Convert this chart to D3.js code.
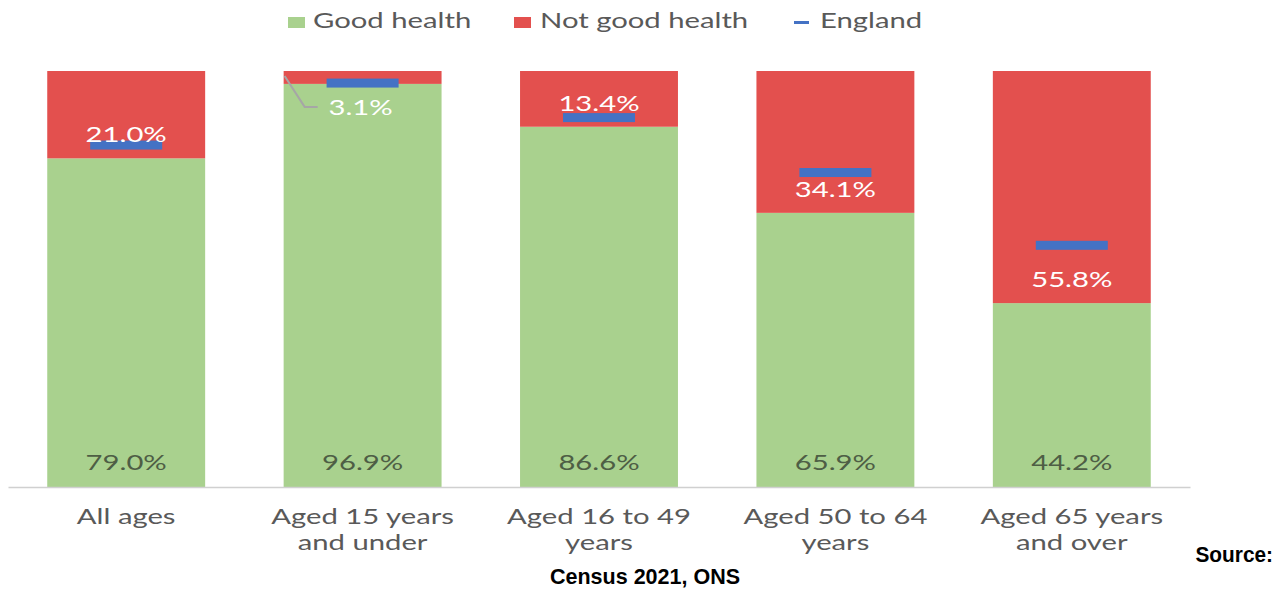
<!DOCTYPE html>
<html>
<head>
<meta charset="utf-8">
<script src="https://cdn.jsdelivr.net/npm/d3@7"></script>
<style>
  html, body { margin: 0; padding: 0; background: #fff; }
  svg { display: block; }
</style>
</head>
<body>
<svg id="chart" width="1281" height="589"></svg>
<script>
// Self-reported health by age group, Census 2021
const categories = [
  ["All ages"],
  ["Aged 15 years", "and under"],
  ["Aged 16 to 49", "years"],
  ["Aged 50 to 64", "years"],
  ["Aged 65 years", "and over"]
];
const goodHealth    = [79.0, 96.9, 86.6, 65.9, 44.2];
const notGoodHealth = [21.0, 3.1, 13.4, 34.1, 55.8];
// England comparator: share in good health
const england       = [82.2, 97.1, 88.8, 75.6, 58.1];
const legendLabels  = ["Good health", "Not good health", "England"];

const COLORS = { good: "#a9d18e", bad: "#e3504e", eng: "#4472c4" };
const FONT = "Lato, 'Open Sans', sans-serif";
const SX = 1.33; // horizontal stretch applied to chart text

const svg = d3.select("#chart");

const x = d3.scaleBand()
  .domain(d3.range(categories.length))
  .range([8, 1190])
  .paddingInner(0.332)
  .paddingOuter(0.166);

const y = d3.scaleLinear().domain([0, 100]).range([487, 71]);

const rows = categories.map((c, i) => ({
  i, label: c, good: goodHealth[i], bad: notGoodHealth[i], eng: england[i]
}));
const stack = d3.stack().keys(["good", "bad"])(rows);

function stretchedText(sel, tx, ty, txt, opts) {
  return sel.append("text")
    .attr("transform", `translate(${tx},${ty}) scale(${opts.sx || SX},1)`)
    .attr("text-anchor", opts.anchor || "middle")
    .attr("font-family", opts.family || FONT)
    .attr("font-size", opts.size || 22)
    .attr("font-weight", opts.weight || "normal")
    .attr("fill", opts.fill || "#595959")
    .text(txt);
}

// Bars
const gBars = svg.append("g");
stack.forEach(layer => {
  gBars.selectAll(null)
    .data(layer)
    .join("rect")
    .attr("x", d => x(d.data.i))
    .attr("width", x.bandwidth())
    .attr("y", d => y(d[1]))
    .attr("height", d => y(d[0]) - y(d[1]))
    .attr("fill", layer.key === "good" ? COLORS.good : COLORS.bad);
});

// Category axis line
const axis = d3.axisBottom(x).tickSize(0).tickFormat("");
const gAxis = svg.append("g").attr("transform", `translate(0,${y(0)})`).call(axis);
gAxis.select(".domain").attr("stroke", "#d0d0d0").attr("stroke-width", 1.6);

// England markers
svg.append("g").selectAll("rect")
  .data(rows)
  .join("rect")
  .attr("x", d => x(d.i) + x.bandwidth() / 2 - 36)
  .attr("width", 72)
  .attr("y", d => y(d.eng) - 4.5)
  .attr("height", 9)
  .attr("fill", COLORS.eng);

// Value labels
const gLab = svg.append("g");
rows.forEach(d => {
  const cx = x(d.i) + x.bandwidth() / 2;
  stretchedText(gLab, cx, y(0) - 17, d.good.toFixed(1) + "%", { fill: "#4e5e45" });
  if (d.bad < 5) {
    // small segment: label sits below the bar top with a leader line
    const ly = y(100 - d.bad) + 31;
    stretchedText(gLab, cx - 2, ly, d.bad.toFixed(1) + "%", { fill: "#ffffff" });
    gLab.append("polyline")
      .attr("points", [[x(d.i) + 1, y(100) + 5], [x(d.i) + 21, ly - 8], [x(d.i) + 34, ly - 8]].join(" "))
      .attr("fill", "none").attr("stroke", "#a6a6a6").attr("stroke-width", 2);
  } else {
    stretchedText(gLab, cx, y(d.good) - 16, d.bad.toFixed(1) + "%", { fill: "#ffffff" });
  }
});

// Category labels
const gCat = svg.append("g");
rows.forEach(d => {
  const cx = x(d.i) + x.bandwidth() / 2;
  d.label.forEach((line, k) => stretchedText(gCat, cx, 524 + k * 26, line, {}));
});

// Legend
const gLeg = svg.append("g");
const legX = [288, 514, 794];
const legTxt = [313, 540, 820];
gLeg.append("rect").attr("x", legX[0]).attr("y", 17).attr("width", 17).attr("height", 11).attr("fill", COLORS.good);
gLeg.append("rect").attr("x", legX[1]).attr("y", 17).attr("width", 17).attr("height", 11).attr("fill", COLORS.bad);
gLeg.append("rect").attr("x", legX[2]).attr("y", 21).attr("width", 15).attr("height", 3).attr("fill", COLORS.eng);
legendLabels.forEach((t, k) => stretchedText(gLeg, legTxt[k], 28, t, { anchor: "start" }));

// Source note
const srcFont = "'Liberation Sans', Arial, sans-serif";
stretchedText(svg, 1273, 562, "Source:", { anchor: "end", family: srcFont, size: 21.5, weight: "bold", fill: "#000", sx: 0.97 });
stretchedText(svg, 645, 584, "Census 2021, ONS", { family: srcFont, size: 21.5, weight: "bold", fill: "#000", sx: 1.0 });
</script>
</body>
</html>
